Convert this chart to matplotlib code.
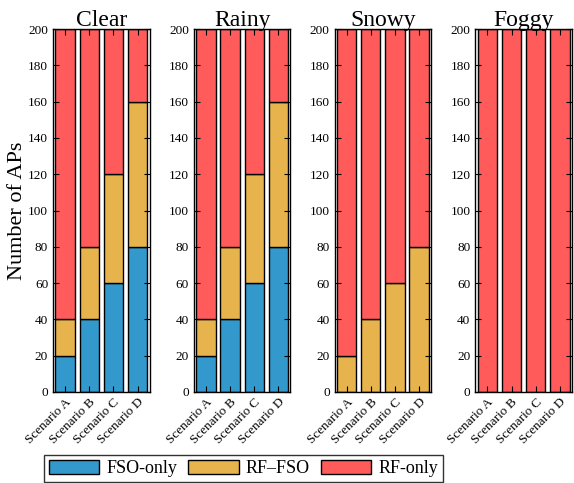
import numpy as np
import matplotlib
matplotlib.use('Agg')
import matplotlib.pyplot as plt

plt.rcParams['font.family'] = ['Liberation Serif', 'DejaVu Serif']
plt.rcParams['mathtext.fontset'] = 'stix'

conditions = ['Clear', 'Rainy', 'Snowy', 'Foggy']
scenarios = ['Scenario A', 'Scenario B', 'Scenario C', 'Scenario D']
total_aps = 200

# FSO-only and RF-FSO counts per condition
fso_only = {'Clear': [20, 40, 60, 80],
            'Rainy': [20, 40, 60, 80],
            'Snowy': [0, 0, 0, 0],
            'Foggy': [0, 0, 0, 0]}
rf_fso = {'Clear': [20, 40, 60, 80],
          'Rainy': [20, 40, 60, 80],
          'Snowy': [20, 40, 60, 80],
          'Foggy': [0, 0, 0, 0]}

colors = ['#3399cc', '#e6b34d', '#ff5b5b']
labels = ['FSO-only', 'RF\u2013FSO', 'RF-only']

fig, axes = plt.subplots(1, 4, figsize=(5.74, 4.83), dpi=100)
fig.subplots_adjust(left=53/574, right=572/574, bottom=91/483, top=454/483, wspace=0.455)

x = np.arange(len(scenarios))
for ax, cond in zip(axes, conditions):
    f = np.array(fso_only[cond])
    h = np.array(rf_fso[cond])
    r = total_aps - f - h
    b1 = ax.bar(x, f, 0.8, color=colors[0], edgecolor='black', linewidth=1)
    b2 = ax.bar(x, h, 0.8, bottom=f, color=colors[1], edgecolor='black', linewidth=1)
    b3 = ax.bar(x, r, 0.8, bottom=f + h, color=colors[2], edgecolor='black', linewidth=1)
    ax.set_xlim(-0.5, 3.5)
    ax.set_ylim(0, 200)
    ax.set_yticks(np.arange(0, 201, 20))
    ax.set_xticks(x)
    ax.set_xticklabels(scenarios, rotation=45, ha='right', rotation_mode='anchor', fontsize=9.5)
    ax.tick_params(direction='in', top=True, right=True, labelsize=9.5, length=4)
    ax.tick_params(axis='x', pad=3)
    ax.set_title(cond, fontsize=17, pad=2)
    for s in ax.spines.values():
        s.set_linewidth(1.0)

axes[0].set_ylabel('Number of APs', fontsize=16, labelpad=1)

fig.legend([b1, b2, b3], labels, loc='lower center', ncol=3, fontsize=13,
           bbox_to_anchor=(0.424, -0.016), frameon=True, fancybox=False,
           edgecolor='black', handlelength=2.8, handleheight=0.8,
           columnspacing=0.6, handletextpad=0.4, borderpad=0.25)

fig.savefig('out.png', dpi=100)
